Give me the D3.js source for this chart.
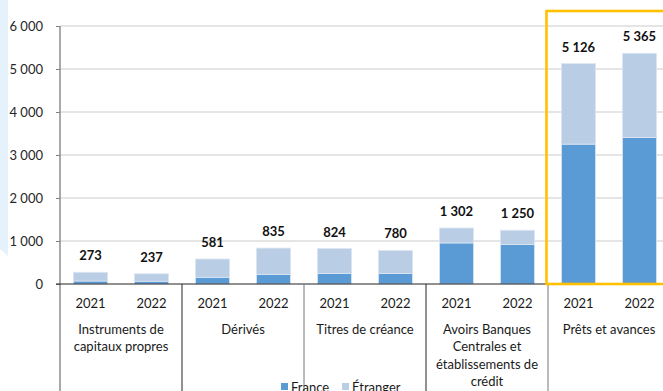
<!DOCTYPE html>
<html>
<head>
<meta charset="utf-8">
<script src="https://cdn.jsdelivr.net/npm/d3@7/dist/d3.min.js"></script>
<style>
  html, body { margin: 0; padding: 0; background: #fff; overflow: hidden; }
  svg { display: block; font-family: "Lato", "Open Sans", sans-serif; }
</style>
</head>
<body>
<svg id="chart" width="663" height="391"></svg>
<script>
// Categories (each with two years) and stacked values
const categories = [
  ["Instruments de", "capitaux propres"],
  ["Dérivés"],
  ["Titres de créance"],
  ["Avoirs Banques", "Centrales et", "établissements de", "crédit"],
  ["Prêts et avances"]
];
const years = ["2021", "2022"];
const totals = [273, 237, 581, 835, 824, 780, 1302, 1250, 5126, 5365];
const france = [70, 65, 155, 225, 242, 242, 955, 917, 3253, 3409];
const yTicks = [0, 1000, 2000, 3000, 4000, 5000, 6000];
const seriesNames = ["France", "Étranger"];
const colors = { France: "#5b9bd5", "Étranger": "#b9cde5" };

const rows = totals.map((t, i) => ({
  key: i,
  year: years[i % 2],
  group: Math.floor(i / 2),
  France: france[i],
  "Étranger": t - france[i],
  total: t
}));

const svg = d3.select("#chart");
const fmt = v => d3.format(",")(v).replace(/,/g, " ");

// Decorative band on the left edge
svg.append("path")
  .attr("d", "M0,0 L8,0 L8,256 L0,249 Z")
  .attr("fill", "#e6f2fb");

const y = d3.scaleLinear().domain([0, 6000]).range([284, 26]);
const x = d3.scaleBand()
  .domain(rows.map(d => d.key))
  .range([60, 670])
  .paddingInner(0.44)
  .paddingOuter(0.22);

// Horizontal gridlines
svg.append("g")
  .selectAll("line")
  .data(yTicks.filter(t => t > 0))
  .join("line")
  .attr("x1", 60).attr("x2", 663)
  .attr("y1", d => y(d)).attr("y2", d => y(d))
  .attr("stroke", "#dcdcdc").attr("stroke-width", 1.3);

// Y axis
const yAxis = svg.append("g")
  .attr("transform", "translate(60,0)")
  .call(d3.axisLeft(y).tickValues(yTicks).tickSize(4).tickPadding(13).tickFormat(fmt));
yAxis.select(".domain").remove();
yAxis.selectAll(".tick line").attr("stroke", "#7f7f7f");
yAxis.selectAll(".tick text")
  .attr("font-size", 13).attr("fill", "#262626")
  .attr("font-family", "Lato, sans-serif");
svg.append("line")
  .attr("x1", 60).attr("x2", 60).attr("y1", 26).attr("y2", 391)
  .attr("stroke", "#8c8c8c").attr("stroke-width", 1.5);

// Stacked bars
const stack = d3.stack().keys(seriesNames)(rows);
svg.append("g")
  .selectAll("g")
  .data(stack)
  .join("g")
  .attr("fill", d => colors[d.key])
  .selectAll("rect")
  .data(d => d)
  .join("rect")
  .attr("x", d => x(d.data.key))
  .attr("width", x.bandwidth())
  .attr("y", d => y(d[1]))
  .attr("height", d => y(d[0]) - y(d[1]))
  .attr("stroke", "#dce6f2").attr("stroke-width", 0.8);

// Total value labels
svg.append("g")
  .selectAll("text")
  .data(rows)
  .join("text")
  .attr("x", d => x(d.key) + x.bandwidth() / 2)
  .attr("y", d => y(d.total) - 12)
  .attr("text-anchor", "middle")
  .attr("font-size", 13).attr("font-weight", "bold").attr("fill", "#111")
  .text(d => fmt(d.total));

// Baseline
svg.append("line")
  .attr("x1", 56).attr("x2", 663).attr("y1", 284).attr("y2", 284)
  .attr("stroke", "#222").attr("stroke-width", 1);

// Group separators
const step = x.step();
svg.append("g")
  .selectAll("line")
  .data(d3.range(1, categories.length))
  .join("line")
  .attr("x1", g => x(g * 2) - x.paddingInner() * step / 2)
  .attr("x2", g => x(g * 2) - x.paddingInner() * step / 2)
  .attr("y1", 284).attr("y2", 391)
  .attr("stroke", (g) => g % 2 ? "#222" : "#777").attr("stroke-width", 1);

// Year labels
svg.append("g")
  .selectAll("text")
  .data(rows)
  .join("text")
  .attr("x", d => x(d.key) + x.bandwidth() / 2)
  .attr("y", 307.5)
  .attr("text-anchor", "middle")
  .attr("font-size", 13).attr("fill", "#1a1a1a")
  .text(d => d.year);

// Category labels
const catText = svg.append("g")
  .selectAll("text")
  .data(categories)
  .join("text")
  .attr("x", (d, i) => (x(i * 2) + x(i * 2 + 1) + x.bandwidth()) / 2)
  .attr("y", 333.5)
  .attr("text-anchor", "middle")
  .attr("font-size", 13).attr("fill", "#1a1a1a");
catText.selectAll("tspan")
  .data(d => d)
  .join("tspan")
  .attr("x", function () { return d3.select(this.parentNode).attr("x"); })
  .attr("dy", (d, i) => i === 0 ? 0 : 17.5)
  .text(d => d);

// Highlight frame around the last category
svg.append("rect")
  .attr("x", x(8) - x.paddingInner() * step / 2 - 1.5)
  .attr("y", 11)
  .attr("width", 200)
  .attr("height", 273)
  .attr("fill", "none")
  .attr("stroke", "#ffc000").attr("stroke-width", 2.6);

// Legend
const legend = svg.append("g");
const legendX = [281, 342];
seriesNames.forEach((name, i) => {
  legend.append("rect")
    .attr("x", legendX[i]).attr("y", 383)
    .attr("width", 7).attr("height", 7)
    .attr("fill", colors[name]);
  legend.append("text")
    .attr("x", legendX[i] + 10).attr("y", 392)
    .attr("font-size", 13).attr("fill", "#1a1a1a")
    .text(name);
});
</script>
</body>
</html>
